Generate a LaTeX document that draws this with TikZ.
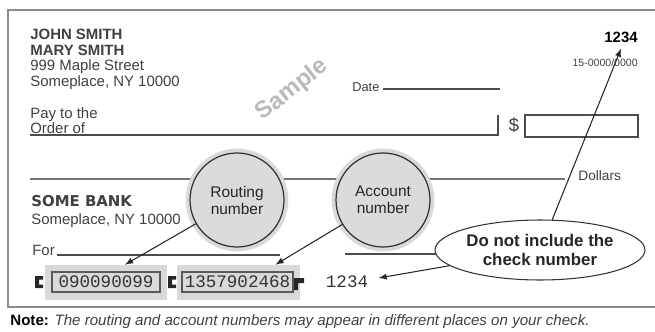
\documentclass[tikz,border=0pt]{standalone}
\usepackage{fontspec}
\setmainfont{Liberation Sans}
\newfontfamily\bankfont{DejaVu Sans}
\newfontfamily\micrfont{Liberation Mono}
\usepackage{tikz}
\usetikzlibrary{arrows,shapes}
\usetikzlibrary{positioning}
\tikzstyle{txt}=[inner sep=0, text=black!75, align=left,
                font=\fontsize{8.5}{8.9}\selectfont]
\tikzstyle{tiny}=[inner sep=0, text=black!75, font=\fontsize{7.3}{8}\selectfont]
\tikzstyle{rule}=[draw=black!70, line width=0.7pt]
\tikzstyle{frame}=[draw=black!45, line width=1.1pt]
\tikzstyle{bubble}=[circle, draw=black!80, line width=0.7pt, fill=gray!28,
                minimum size=1.88cm, inner sep=0, align=center, text=black!85,
                font=\fontsize{8.8}{9.7}\selectfont,
                preaction={draw=gray!30, line width=5pt}]
\tikzstyle{noteoval}=[ellipse, draw=black!80, line width=0.6pt, fill=white,
                minimum width=4.2cm, minimum height=1.2cm, inner sep=0,
                align=center, text=black!85,
                font=\fontsize{9.6}{10.8}\selectfont\bfseries]
\tikzstyle{pointer}=[-latex, draw=black!85, line width=0.6pt]
\tikzstyle{micrbox}=[fill=gray!30, minimum height=0.7cm, inner sep=0]
\tikzstyle{micrfield}=[draw=black!65, line width=0.6pt, minimum height=0.4cm,
                inner sep=0, text=black!80, font=\micrfont\fontsize{10}{10}\selectfont]

\begin{document}
\begin{tikzpicture}[x=0.02cm, y=-0.02cm]
\path[use as bounding box] (0,0) rectangle (655,331);
\draw[frame] (655,10) -- (8,10) -- (8,307) -- (655,307);
% top of the check
\node[txt, anchor=west] (owner) at (30,59.5)
  {\textbf{JOHN SMITH}\\\textbf{MARY SMITH}\\999 Maple Street\\Someplace, NY 10000};
\node[rotate=38, text=gray!55, font=\fontsize{13.5}{14}\selectfont\bfseries]
  (sample) at (292,90) {Sample};
\node[inner sep=0, anchor=east, font=\fontsize{8.5}{9}\selectfont\bfseries]
  (checkno) at (638,37) {1234};
\node[tiny, anchor=east, font=\fontsize{6}{6}\selectfont] (fraction) at (638,63) {15-0000/0000};
\node[tiny, anchor=west] (date) at (352,87) {Date};
\draw[rule] (383,89) -- (500,89);
\node[txt, anchor=west] (payto) at (30,120.5) {Pay to the\\Order of};
\draw[rule] (30,135) -- (498,135) -- (498,115);
\node[txt, font=\fontsize{10.5}{11}\selectfont] (dollar) at (514,125) {\$};
\node[rule, minimum width=2.26cm, minimum height=0.44cm] (amount) at (581.5,126) {};
\draw[frame, draw=black!55] (30,179) -- (565,179);
\node[tiny, anchor=west, font=\fontsize{7.8}{8}\selectfont] (dollars) at (578,176) {Dollars};
% bank and memo
\node[txt, anchor=west, font=\fontsize{8.5}{9.7}\selectfont] (bank) at (31,211.5)
  {{\bankfont\bfseries SOME BANK}\\Someplace, NY 10000};
\node[txt, anchor=west] (memo) at (32,250) {For};
\draw[rule] (57,255) -- (280,255);
\draw[rule] (345,254) -- (600,254);
\node[bubble] (routing) at (237,200) {Routing\\number};
\node[bubble] (account) at (383,200) {Account\\number};
% MICR line
\node[micrbox, minimum width=2.44cm] (rbox) at (106,282.5) {};
\node[micrbox, minimum width=2.46cm] (abox) at (238.5,282.5) {};
\node[micrfield, minimum width=2.16cm] (rfield) at (106,282) {090090099};
\node[micrfield, minimum width=2.22cm] (afield) at (237.5,282) {1357902468};
\node[micrfield, draw=none] (micrno) at (347,282) {1234};
\fill[black!85] (35,276) rectangle (39,288) (39,276) rectangle (43,279.5)
  (39,284.5) rectangle (43,288);
\fill[black!85] (168,276) rectangle (172,288) (172,276) rectangle (176,279.5)
  (172,284.5) rectangle (176,288);
\fill[black!85] (294,278) rectangle (298,290) (298,278) rectangle (304,283);
\node[noteoval] (note) at (540,250) {Do not include the\\check number};
\draw[pointer] (routing) -- ([xshift=0.38cm]rbox.north);
\draw[pointer] (account) -- ([xshift=0.74cm]abox.north);
\draw[pointer] (note) -- ([shift={(0.2cm,0.08cm)}]micrno.east);
\draw[pointer] (note) -- ([yshift=-0.12cm]checkno.south);
\node[txt, anchor=west, font=\fontsize{8.6}{9}\selectfont] (footnote) at (10,322)
  {\textcolor{black}{\textbf{Note:}} \textit{The routing and account numbers may appear in different places on your check.}};
\end{tikzpicture}
\end{document}
